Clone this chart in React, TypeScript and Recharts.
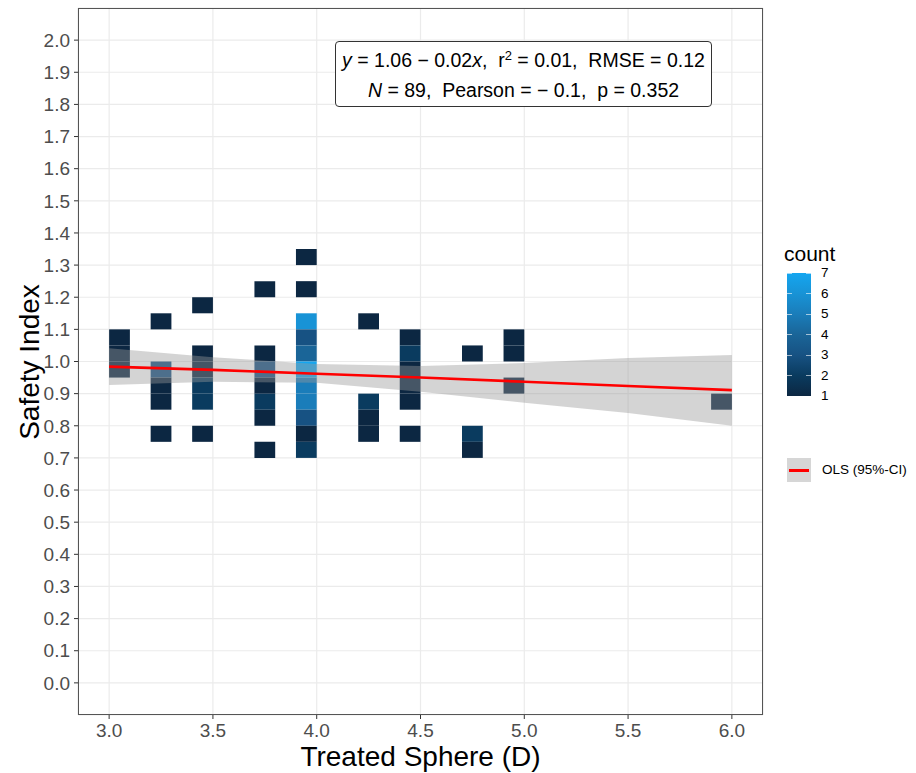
import { Area, CartesianGrid, ComposedChart, Line, ReferenceArea, XAxis, YAxis } from 'recharts';

// 2d bins: left edge (D), bottom edge (index), count
const tileX = [
  3.0, 3.0, 3.0,
  3.2, 3.2, 3.2, 3.2, 3.2,
  3.4, 3.4, 3.4, 3.4, 3.4, 3.4,
  3.7, 3.7, 3.7, 3.7, 3.7, 3.7, 3.7,
  3.9, 3.9, 3.9, 3.9, 3.9, 3.9, 3.9, 3.9, 3.9, 3.9, 3.9,
  4.2, 4.2, 4.2, 4.2,
  4.4, 4.4, 4.4, 4.4, 4.4, 4.4,
  4.7, 4.7, 4.7,
  4.9, 4.9, 4.9,
  5.9,
];
const tileY = [
  0.95, 1.0, 1.05,
  1.1, 0.95, 0.9, 0.85, 0.75,
  1.15, 1.0, 0.95, 0.9, 0.85, 0.75,
  1.2, 1.0, 0.95, 0.9, 0.85, 0.8, 0.7,
  1.3, 1.2, 1.1, 1.05, 1.0, 0.95, 0.9, 0.85, 0.8, 0.75, 0.7,
  1.1, 0.85, 0.8, 0.75,
  1.05, 1.0, 0.95, 0.9, 0.85, 0.75,
  1.0, 0.75, 0.7,
  1.05, 1.0, 0.9,
  0.85,
];
const tileCount = [
  1, 1, 1,
  1, 3, 1, 1, 1,
  1, 1, 1, 2, 2, 1,
  1, 1, 3, 1, 2, 1, 1,
  1, 1, 6, 3, 4, 7, 5, 5, 3, 1, 2,
  1, 2, 1, 1,
  1, 2, 1, 1, 1, 1,
  1, 2, 1,
  1, 1, 1,
  1,
];

// OLS fit and 95% CI
const fitX = [3.0, 3.5, 4.0, 4.5, 5.0, 5.5, 6.0];
const fitY = [0.984, 0.974, 0.962, 0.95, 0.937, 0.924, 0.911];
const ciLower = [0.927, 0.937, 0.934, 0.906, 0.872, 0.84, 0.8];
const ciUpper = [1.041, 1.013, 0.992, 0.986, 0.995, 1.011, 1.02];

const xTicks = [3.0, 3.5, 4.0, 4.5, 5.0, 5.5, 6.0];
const yTicks = [
  0.0, 0.1, 0.2, 0.3, 0.4, 0.5, 0.6, 0.7, 0.8, 0.9, 1.0,
  1.1, 1.2, 1.3, 1.4, 1.5, 1.6, 1.7, 1.8, 1.9, 2.0,
];
const countBreaks = [1, 2, 3, 4, 5, 6, 7];

const BIN_W = 0.1;
const BIN_H = 0.05;
const countColors = ['#0C2742', '#0A3B5F', '#175283', '#1A6598', '#1A7DBA', '#1893D6', '#14A6F0'];
const FONT = '"Liberation Sans", Arial, sans-serif';

const fitData = fitX.map((x, i) => ({ x, fit: fitY[i], band: [ciLower[i], ciUpper[i]] }));

const fmt = (v: number) => v.toFixed(1);

const App = () => {
  return (
    <div style={{ position: 'absolute', left: 0, top: 0, width: 916, height: 773, background: '#fff', fontFamily: FONT }}>
      <ComposedChart width={916} height={773} data={fitData} margin={{ top: 8, right: 153, bottom: 0, left: 0 }}>
        <CartesianGrid stroke="#EBEBEB" strokeWidth={1.2} />
        <XAxis
          type="number"
          dataKey="x"
          domain={[2.85, 6.15]}
          ticks={xTicks}
          tickFormatter={fmt}
          height={58}
          axisLine={false}
          tickSize={4}
          tickMargin={5}
          tickLine={{ stroke: '#333' }}
          tick={{ fill: '#4D4D4D', fontSize: 19, fontFamily: FONT }}
          allowDataOverflow
        />
        <YAxis
          type="number"
          domain={[-0.1, 2.1]}
          ticks={yTicks}
          tickFormatter={fmt}
          width={78}
          axisLine={false}
          tickSize={4}
          tickMargin={4}
          tickLine={{ stroke: '#333' }}
          tick={{ fill: '#4D4D4D', fontSize: 19, fontFamily: FONT }}
          allowDataOverflow
          interval={0}
        />
        {tileX.map((x, i) => (
          <ReferenceArea
            key={i}
            x1={x}
            x2={x + BIN_W}
            y1={tileY[i]}
            y2={tileY[i] + BIN_H}
            fill={countColors[tileCount[i] - 1]}
            fillOpacity={1}
            stroke="none"
            zIndex={50}
          />
        ))}
        <Area
          type="linear"
          dataKey="band"
          fill="#999999"
          fillOpacity={0.42}
          stroke="none"
          dot={false}
          activeDot={false}
          isAnimationActive={false}
        />
        <Line
          type="linear"
          dataKey="fit"
          stroke="#FF0000"
          strokeWidth={2.6}
          dot={false}
          activeDot={false}
          isAnimationActive={false}
        />
      </ComposedChart>

      {/* panel border */}
      <div style={{ position: 'absolute', left: 78, top: 8, width: 685, height: 707, border: '1px solid #555', boxSizing: 'border-box', pointerEvents: 'none' }} />

      {/* stats annotation */}
      <div
        style={{
          position: 'absolute', left: 335, top: 41, width: 377, height: 66, border: '1px solid #333', borderRadius: 4,
          background: '#fff', boxSizing: 'border-box', fontSize: 19.5, color: '#000', textAlign: 'center', lineHeight: '30px',
          paddingTop: 3, whiteSpace: 'nowrap',
        }}
      >
        <div>
          <i>y</i> = 1.06 − 0.02<i>x</i>,&nbsp; r<sup style={{ fontSize: 13, lineHeight: 0 }}>2</sup> = 0.01,&nbsp; RMSE = 0.12
        </div>
        <div>
          <i>N</i> = 89,&nbsp; Pearson = − 0.1,&nbsp; p = 0.352
        </div>
      </div>

      {/* axis titles */}
      <div style={{ position: 'absolute', left: 78, width: 685, top: 741, textAlign: 'center', fontSize: 28, color: '#000', lineHeight: '32px' }}>
        Treated Sphere (D)
      </div>
      <div
        style={{
          position: 'absolute', left: 30, top: 362, transform: 'translate(-50%, -50%) rotate(-90deg)', fontSize: 28,
          color: '#000', whiteSpace: 'nowrap', lineHeight: '32px',
        }}
      >
        Safety Index
      </div>

      {/* count colour bar */}
      <div style={{ position: 'absolute', left: 784, top: 242, fontSize: 21, color: '#000', lineHeight: '24px' }}>count</div>
      <div
        style={{
          position: 'absolute', left: 787, top: 273, width: 24, height: 123,
          background: `linear-gradient(to top, ${countColors.join(', ')})`,
        }}
      />
      {countBreaks.map((k) => {
        const y = 396 - (k - 1) * 20.5;
        return (
          <div key={k}>
            <div style={{ position: 'absolute', left: 787, top: y - 0.5, width: 5, height: 1, background: 'rgba(255,255,255,0.6)' }} />
            <div style={{ position: 'absolute', left: 806, top: y - 0.5, width: 5, height: 1, background: 'rgba(255,255,255,0.6)' }} />
            <div style={{ position: 'absolute', left: 821, top: y - 8, fontSize: 13.5, lineHeight: '16px', color: '#000' }}>{k}</div>
          </div>
        );
      })}

      {/* OLS key */}
      <div style={{ position: 'absolute', left: 787, top: 458, width: 24, height: 24, background: '#D6D6D6' }} />
      <div style={{ position: 'absolute', left: 789, top: 469, width: 20, height: 3, background: '#FF0000' }} />
      <div style={{ position: 'absolute', left: 822, top: 462, fontSize: 13.5, lineHeight: '16px', color: '#000' }}>OLS (95%-CI)</div>
    </div>
  );
};

export default App;
